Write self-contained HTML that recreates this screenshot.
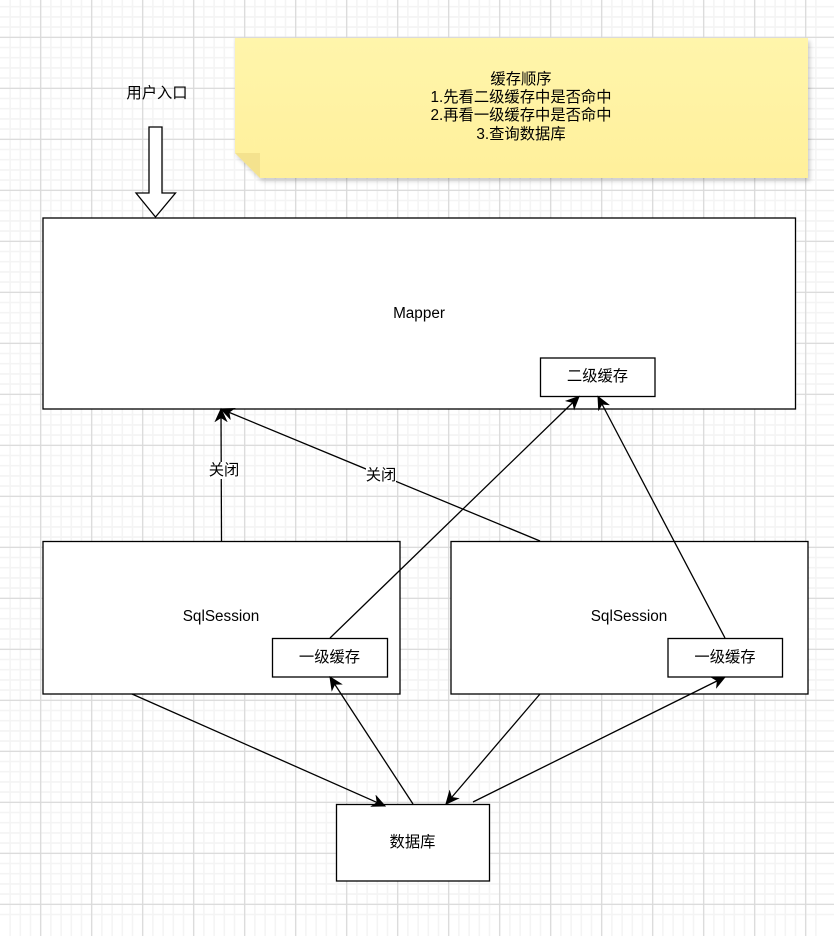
<!DOCTYPE html>
<html lang="zh"><head><meta charset="utf-8"><title>缓存顺序</title>
<style>
html,body{margin:0;padding:0;background:#fff;width:834px;height:936px;overflow:hidden}
svg{display:block}
text{font-family:"Liberation Sans","Noto Sans CJK SC",sans-serif;font-size:15.3px;fill:#000;text-anchor:middle}
</style></head><body>
<svg width="834" height="936" viewBox="0 0 834 936" xmlns="http://www.w3.org/2000/svg">
<defs>
<linearGradient id="note" x1="0" y1="0" x2="0" y2="1"><stop offset="0" stop-color="#fff5ab"/><stop offset="1" stop-color="#fff09b"/></linearGradient>
<filter id="sh" x="-5%" y="-10%" width="110%" height="120%"><feDropShadow dx="2" dy="3" stdDeviation="2" flood-color="#000" flood-opacity=".2"/></filter>
<marker id="a" markerUnits="userSpaceOnUse" markerWidth="16" markerHeight="16" refX="13" refY="8" orient="auto">
<path d="M13 8L1 2.500 4.500 8 1 13.500Z" fill="#000" stroke="#000" stroke-width="1"/>
</marker>
</defs>
<rect width="834" height="936" fill="#fff"/>
<g fill="none" stroke="#f4f4f4" stroke-width="1.600">
<path d="M10.1 0v936m10.2-936v936m10.2-936v936m10.2-936v936m10.2-936v936m10.2-936v936m10.2-936v936m10.2-936v936m10.2-936v936m10.2-936v936m10.2-936v936m10.2-936v936m10.2-936v936m10.2-936v936m10.2-936v936m10.2-936v936m10.2-936v936m10.2-936v936m10.2-936v936m10.2-936v936m10.2-936v936m10.2-936v936m10.2-936v936m10.2-936v936m10.2-936v936m10.2-936v936m10.2-936v936m10.2-936v936m10.2-936v936m10.2-936v936m10.2-936v936m10.2-936v936m10.2-936v936m10.2-936v936m10.2-936v936m10.2-936v936m10.2-936v936m10.2-936v936m10.2-936v936m10.2-936v936m10.2-936v936m10.2-936v936m10.2-936v936m10.2-936v936m10.2-936v936m10.2-936v936m10.2-936v936m10.2-936v936m10.2-936v936m10.2-936v936m10.2-936v936m10.2-936v936m10.2-936v936m10.2-936v936m10.2-936v936m10.2-936v936m10.2-936v936m10.2-936v936m10.2-936v936m10.2-936v936m10.2-936v936m10.2-936v936m10.2-936v936m10.2-936v936m10.2-936v936m10.2-936v936m10.2-936v936m10.2-936v936m10.2-936v936m10.2-936v936m10.2-936v936m10.2-936v936m10.2-936v936m10.2-936v936m10.2-936v936m10.2-936v936m10.2-936v936m10.2-936v936m10.2-936v936m10.2-936v936"/>
<path d="M0 6.700h834m-834 10.2h834m-834 10.2h834m-834 10.2h834m-834 10.2h834m-834 10.2h834m-834 10.2h834m-834 10.2h834m-834 10.2h834m-834 10.2h834m-834 10.2h834m-834 10.2h834m-834 10.2h834m-834 10.2h834m-834 10.2h834m-834 10.2h834m-834 10.2h834m-834 10.2h834m-834 10.2h834m-834 10.2h834m-834 10.2h834m-834 10.2h834m-834 10.2h834m-834 10.2h834m-834 10.2h834m-834 10.2h834m-834 10.2h834m-834 10.2h834m-834 10.2h834m-834 10.2h834m-834 10.2h834m-834 10.2h834m-834 10.2h834m-834 10.2h834m-834 10.2h834m-834 10.2h834m-834 10.2h834m-834 10.2h834m-834 10.2h834m-834 10.2h834m-834 10.2h834m-834 10.2h834m-834 10.2h834m-834 10.2h834m-834 10.2h834m-834 10.2h834m-834 10.2h834m-834 10.2h834m-834 10.2h834m-834 10.2h834m-834 10.2h834m-834 10.2h834m-834 10.2h834m-834 10.2h834m-834 10.2h834m-834 10.2h834m-834 10.2h834m-834 10.2h834m-834 10.2h834m-834 10.2h834m-834 10.2h834m-834 10.2h834m-834 10.2h834m-834 10.2h834m-834 10.2h834m-834 10.2h834m-834 10.2h834m-834 10.2h834m-834 10.2h834m-834 10.2h834m-834 10.2h834m-834 10.2h834m-834 10.2h834m-834 10.2h834m-834 10.2h834m-834 10.2h834m-834 10.2h834m-834 10.2h834m-834 10.2h834m-834 10.2h834m-834 10.2h834m-834 10.2h834m-834 10.2h834m-834 10.2h834m-834 10.2h834m-834 10.2h834m-834 10.2h834m-834 10.2h834m-834 10.2h834m-834 10.2h834"/>
</g>
<g fill="none" stroke="#d9d9d9" stroke-width="1.200">
<path d="M40.700 0v936M91.700 0v936M142.700 0v936M193.700 0v936M244.700 0v936M295.700 0v936M346.700 0v936M397.700 0v936M448.700 0v936M499.700 0v936M550.700 0v936M601.700 0v936M652.700 0v936M703.700 0v936M754.700 0v936M805.700 0v936"/>
<path d="M0 37.300h834M0 88.300h834M0 139.300h834M0 190.300h834M0 241.300h834M0 292.300h834M0 343.300h834M0 394.300h834M0 445.300h834M0 496.300h834M0 547.300h834M0 598.300h834M0 649.300h834M0 700.300h834M0 751.300h834M0 802.300h834M0 853.300h834M0 904.300h834"/>
</g>

<path d="M235 38H808V178H260L235 153Z" fill="url(#note)" filter="url(#sh)"/>
<path d="M235 153H260V178Z" fill="#f4e28e"/>
<text x="521" y="84">缓存顺序</text>
<text x="521" y="102">1.先看二级缓存中是否命中</text>
<text x="521" y="120">2.再看一级缓存中是否命中</text>
<text x="521" y="139">3.查询数据库</text>

<text x="157" y="98">用户入口</text>
<path d="M149 127H162V193H175.500L155.500 217 136 193H149Z" fill="#fff" stroke="#000" stroke-width="1.300"/>

<g fill="#fff" stroke="#000" stroke-width="1.300">
<rect x="43" y="218" width="752.500" height="191"/>
<rect x="540.500" y="358" width="114.500" height="38.500"/>
<rect x="43" y="541.500" width="357" height="152.500"/>
<rect x="272.500" y="638.500" width="115" height="38.500"/>
<rect x="451" y="541.500" width="357" height="152.500"/>
<rect x="668" y="638.500" width="114.500" height="38.500"/>
<rect x="336.500" y="804.500" width="153" height="76.500"/>
</g>
<text x="419" y="318">Mapper</text>
<text x="597.500" y="381">二级缓存</text>
<text x="221" y="621">SqlSession</text>
<text x="329.500" y="662">一级缓存</text>
<text x="629" y="621">SqlSession</text>
<text x="725" y="662">一级缓存</text>
<text x="412.500" y="847">数据库</text>

<g fill="none" stroke="#000" stroke-width="1.300">
<path d="M221.500 541L221 409" marker-end="url(#a)"/>
<path d="M540 541L221 409" marker-end="url(#a)"/>
<path d="M330 638L579 396.500" marker-end="url(#a)"/>
<path d="M725 638L598 396.500" marker-end="url(#a)"/>
<path d="M132 694L385 806" marker-end="url(#a)"/>
<path d="M413 804L330 677" marker-end="url(#a)"/>
<path d="M540 694L446 804" marker-end="url(#a)"/>
<path d="M473 802L725 677" marker-end="url(#a)"/>
</g>
<rect x="209" y="462" width="30" height="17" fill="#fff"/>
<text x="224" y="475">关闭</text>
<rect x="366" y="467" width="30" height="17" fill="#fff"/>
<text x="381" y="480">关闭</text>
</svg>
</body></html>
